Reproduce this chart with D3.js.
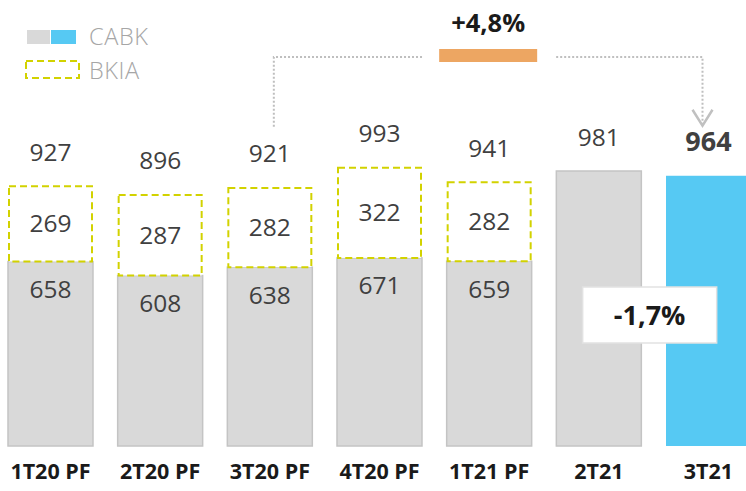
<!DOCTYPE html>
<html>
<head>
<meta charset="utf-8">
<script src="https://cdn.jsdelivr.net/npm/d3@7"></script>
<style>
  body { margin: 0; background: #fff; }
  svg { display: block; font-family: "Open Sans", "Noto Sans", sans-serif; }
</style>
</head>
<body>
<svg id="chart" width="746" height="491"></svg>
<script>
// values
var categories = ["1T20 PF", "2T20 PF", "3T20 PF", "4T20 PF", "1T21 PF", "2T21", "3T21"];
var cabk = [658, 608, 638, 671, 659, 981, 964];
var bkia = [269, 287, 282, 322, 282, 0, 0];
var totals = [927, 896, 921, 993, 941, 981, 964];
var growthLabel = "+4,8%";      // 3T20 PF -> 3T21
var changeLabel = "-1,7%";      // 2T21 -> 3T21

var svg = d3.select("#chart");

var x = d3.scaleBand()
  .domain(categories)
  .range([8, 751])
  .paddingInner(0.225)
  .paddingOuter(0);

var y = d3.scaleLinear()
  .domain([0, 981])
  .range([446, 171]);

var rows = categories.map(function(c, i) {
  return { cat: c, cabk: cabk[i], bkia: bkia[i], total: totals[i], last: i === categories.length - 1 };
});

// CABK part (gray, last one blue)
svg.selectAll("rect.cabk")
  .data(rows)
  .enter().append("rect")
  .attr("class", "cabk")
  .attr("x", function(d) { return x(d.cat); })
  .attr("y", function(d) { return y(d.cabk); })
  .attr("width", x.bandwidth())
  .attr("height", function(d) { return y(0) - y(d.cabk); })
  .attr("fill", function(d) { return d.last ? "#56c9f3" : "#d9d9d9"; })
  .attr("stroke", function(d) { return d.last ? "none" : "#c4c4c4"; })
  .attr("stroke-width", 1.5);

// BKIA part (dashed outline)
var withBkia = rows.filter(function(d) { return d.bkia > 0; });

svg.selectAll("rect.bkia")
  .data(withBkia)
  .enter().append("rect")
  .attr("class", "bkia")
  .attr("x", function(d) { return x(d.cat) + 1; })
  .attr("y", function(d) { return y(d.cabk + d.bkia); })
  .attr("width", x.bandwidth() - 2)
  .attr("height", function(d) { return y(d.cabk) - y(d.cabk + d.bkia); })
  .attr("fill", "#fff")
  .attr("stroke", "#d2d200")
  .attr("stroke-width", 2)
  .attr("stroke-dasharray", "7,4");

// labels inside the segments
svg.selectAll("text.bkia")
  .data(withBkia)
  .enter().append("text")
  .attr("x", function(d) { return x(d.cat) + x.bandwidth() / 2; })
  .attr("y", function(d) { return (y(d.cabk) + y(d.cabk + d.bkia)) / 2; })
  .attr("dy", "0.35em")
  .attr("text-anchor", "middle")
  .attr("font-size", 24.5)
  .attr("fill", "#404040")
  .text(function(d) { return d.bkia; });

svg.selectAll("text.cabk")
  .data(withBkia)
  .enter().append("text")
  .attr("x", function(d) { return x(d.cat) + x.bandwidth() / 2; })
  .attr("y", function(d) { return y(d.cabk) + 28; })
  .attr("dy", "0.35em")
  .attr("text-anchor", "middle")
  .attr("font-size", 24.5)
  .attr("fill", "#404040")
  .text(function(d) { return d.cabk; });

// totals above
svg.selectAll("text.total")
  .data(rows)
  .enter().append("text")
  .attr("x", function(d) { return x(d.cat) + x.bandwidth() / 2; })
  .attr("y", function(d) { return y(d.total) - 34; })
  .attr("dy", "0.35em")
  .attr("text-anchor", "middle")
  .attr("font-size", function(d) { return d.last ? 27 : 24.5; })
  .attr("font-weight", function(d) { return d.last ? 700 : 400; })
  .attr("fill", "#404040")
  .text(function(d) { return d.total; });

// category labels
svg.selectAll("text.cat")
  .data(categories)
  .enter().append("text")
  .attr("x", function(d) { return x(d) + x.bandwidth() / 2; })
  .attr("y", 471)
  .attr("dy", "0.35em")
  .attr("text-anchor", "middle")
  .attr("font-size", 21.5)
  .attr("font-weight", 700)
  .attr("fill", "#1a1a1a")
  .text(function(d) { return d; });

// legend
var legend = svg.append("g");
legend.append("rect").attr("x", 27).attr("y", 30).attr("width", 23).attr("height", 14).attr("fill", "#d9d9d9");
legend.append("rect").attr("x", 51).attr("y", 30).attr("width", 25).attr("height", 14).attr("fill", "#56c9f3");
legend.append("rect").attr("x", 26).attr("y", 61).attr("width", 53).attr("height", 17)
  .attr("fill", "none").attr("stroke", "#d2d200").attr("stroke-width", 2).attr("stroke-dasharray", "7,4");
legend.append("text").attr("x", 89).attr("y", 37).attr("dy", "0.35em")
  .attr("font-size", 23.5).attr("font-weight", 300).attr("letter-spacing", 0.6)
  .attr("fill", "#a6a6a6").text("CABK");
legend.append("text").attr("x", 89).attr("y", 71).attr("dy", "0.35em")
  .attr("font-size", 23.5).attr("font-weight", 300).attr("letter-spacing", 0.6)
  .attr("fill", "#a6a6a6").text("BKIA");

// growth connector 3T20 PF -> 3T21
var fromX = x("3T20 PF") + x.bandwidth() / 2 + 4;
var toX = x("3T21") + x.bandwidth() / 2 - 6;
var lineY = 57;
var midX = (fromX + toX) / 2;

var dotted = { stroke: "#bfbfbf", "stroke-width": 2, "stroke-dasharray": "2,2", fill: "none" };
function applyAttrs(sel, a) { Object.keys(a).forEach(function(k) { sel.attr(k, a[k]); }); return sel; }

applyAttrs(svg.append("path")
  .attr("d", d3.line()([[fromX, y(totals[2]) - 61], [fromX, lineY], [midX - 66, lineY]])), dotted);
applyAttrs(svg.append("path")
  .attr("d", d3.line()([[midX + 68, lineY], [toX, lineY], [toX, y(totals[6]) - 50]])), dotted);

svg.append("path")
  .attr("d", d3.line()([[toX - 10, y(totals[6]) - 66], [toX, y(totals[6]) - 50], [toX + 10, y(totals[6]) - 66]]))
  .attr("fill", "none")
  .attr("stroke", "#c0c0c0")
  .attr("stroke-width", 2.5);

svg.append("rect")
  .attr("x", midX - 49).attr("y", 49).attr("width", 98).attr("height", 13)
  .attr("fill", "#eda662");

svg.append("text")
  .attr("x", midX).attr("y", 23).attr("dy", "0.35em")
  .attr("text-anchor", "middle").attr("font-size", 25.5).attr("font-weight", 700)
  .attr("fill", "#1a1a1a").text(growthLabel);

// change box between 2T21 and 3T21
var boxCx = (x("2T21") + x.bandwidth() / 2 + x("3T21") + x.bandwidth() / 2) / 2 - 4;
svg.append("rect")
  .attr("x", boxCx - 67).attr("y", 287).attr("width", 134).attr("height", 56)
  .attr("fill", "#fff").attr("stroke", "#e2e2e2").attr("stroke-width", 1.5);
svg.append("text")
  .attr("x", boxCx).attr("y", 316).attr("dy", "0.35em")
  .attr("text-anchor", "middle").attr("font-size", 27).attr("font-weight", 700)
  .attr("fill", "#1a1a1a").text(changeLabel);
</script>
</body>
</html>
